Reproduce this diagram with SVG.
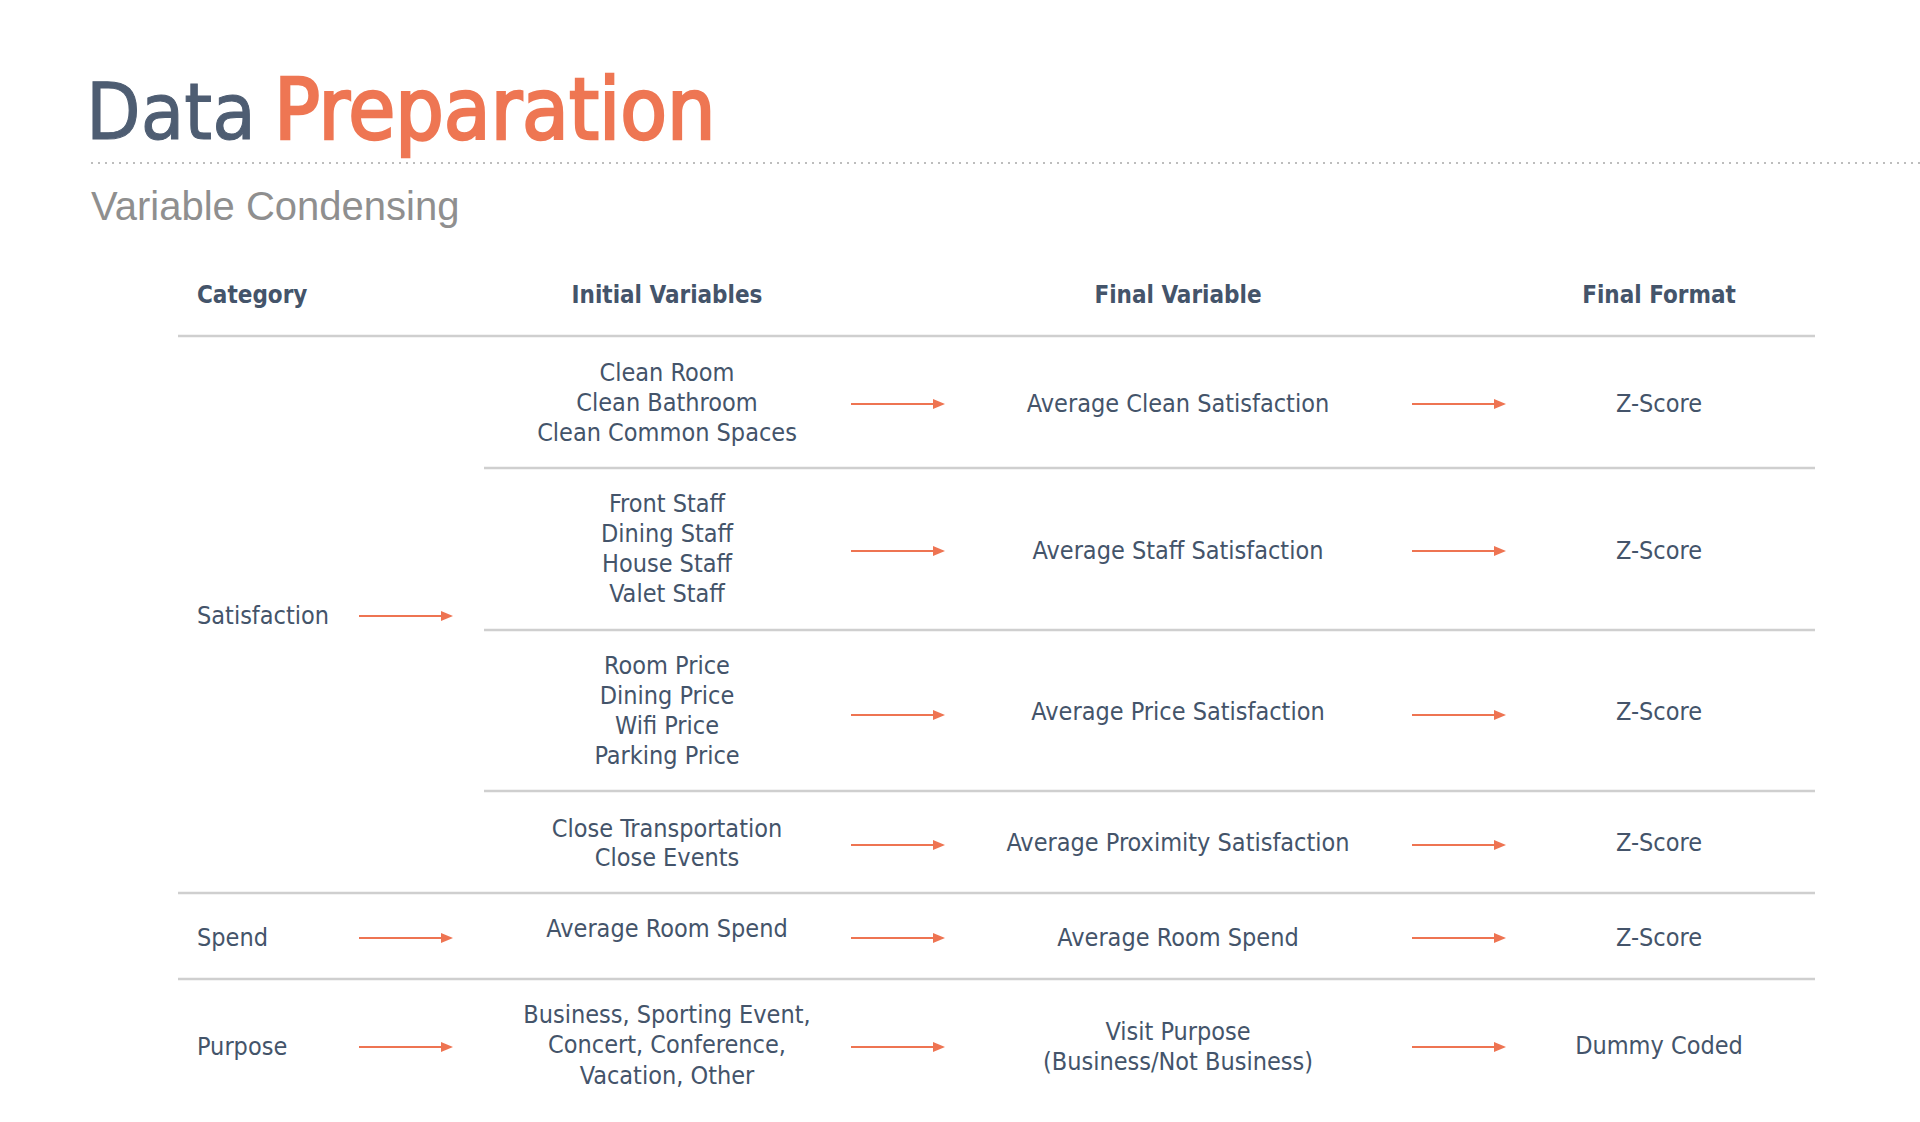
<svg xmlns="http://www.w3.org/2000/svg" width="1920" height="1122" viewBox="0 0 1920 1122">
<defs>
<style>
.t{font-family:"DejaVu Sans Condensed","DejaVu Sans","Liberation Sans",sans-serif;fill:#44546A;font-size:25px;text-anchor:middle}
.l{text-anchor:start}
.h{font-weight:bold;font-size:24px}
.rule{stroke:#CFCFCF;stroke-width:2.5}
.arr{stroke:#EE7452;stroke-width:2;fill:none;marker-end:url(#ah)}
</style>
<marker id="ah" markerWidth="12" markerHeight="10" refX="0" refY="5" orient="auto" markerUnits="userSpaceOnUse">
<path d="M0,0 L12,5 L0,10 Z" fill="#EE7452"/>
</marker>
</defs>
<rect width="1920" height="1122" fill="#FFFFFF"/>
<g id="title">
<text x="86" y="139" font-family="DejaVu Sans Condensed, DejaVu Sans, sans-serif" font-size="79" fill="#4E5D72" stroke="#4E5D72" stroke-width="1">Data</text>
<text x="274" y="139" font-family="DejaVu Sans Condensed, DejaVu Sans, sans-serif" font-size="85" fill="#EE7653" stroke="#EE7653" stroke-width="2.5">Preparation</text>
<line x1="91" y1="163" x2="1920" y2="163" stroke="#BDBDBD" stroke-width="2" stroke-dasharray="2 5"/>
<text x="91" y="220" font-family="Liberation Sans, Arial, sans-serif" font-size="40" fill="#8F8F8F">Variable Condensing</text>
</g>
<g id="headers">
<text class="t h l" x="197" y="303">Category</text>
<text class="t h" x="667" y="303">Initial Variables</text>
<text class="t h" x="1178" y="303">Final Variable</text>
<text class="t h" x="1659" y="303">Final Format</text>
</g>
<g id="rules">
<line class="rule" x1="178" y1="336" x2="1815" y2="336"/>
<line class="rule" x1="484" y1="468" x2="1815" y2="468"/>
<line class="rule" x1="484" y1="630" x2="1815" y2="630"/>
<line class="rule" x1="484" y1="791" x2="1815" y2="791"/>
<line class="rule" x1="178" y1="893" x2="1815" y2="893"/>
<line class="rule" x1="178" y1="979" x2="1815" y2="979"/>
</g>
<g id="cat-satisfaction"><text class="t l" x="197" y="624">Satisfaction</text></g>
<g id="cat-spend"><text class="t l" x="197" y="946">Spend</text></g>
<g id="cat-purpose"><text class="t l" x="197" y="1055">Purpose</text></g>
<g id="init-clean"><text class="t" x="667" y="381">Clean Room</text><text class="t" x="667" y="411">Clean Bathroom</text><text class="t" x="667" y="441">Clean Common Spaces</text></g>
<g id="init-staff"><text class="t" x="667" y="512">Front Staff</text><text class="t" x="667" y="542">Dining Staff</text><text class="t" x="667" y="572">House Staff</text><text class="t" x="667" y="602">Valet Staff</text></g>
<g id="init-price"><text class="t" x="667" y="674">Room Price</text><text class="t" x="667" y="704">Dining Price</text><text class="t" x="667" y="734">Wifi Price</text><text class="t" x="667" y="764">Parking Price</text></g>
<g id="init-proximity"><text class="t" x="667" y="837">Close Transportation</text><text class="t" x="667" y="866">Close Events</text></g>
<g id="init-spend"><text class="t" x="667" y="937">Average Room Spend</text></g>
<g id="init-purpose"><text class="t" x="667" y="1023">Business, Sporting Event,</text><text class="t" x="667" y="1053">Concert, Conference,</text><text class="t" x="667" y="1084">Vacation, Other</text></g>
<g id="final-clean"><text class="t" x="1178" y="412">Average Clean Satisfaction</text></g>
<g id="final-staff"><text class="t" x="1178" y="559">Average Staff Satisfaction</text></g>
<g id="final-price"><text class="t" x="1178" y="720">Average Price Satisfaction</text></g>
<g id="final-proximity"><text class="t" x="1178" y="851">Average Proximity Satisfaction</text></g>
<g id="final-spend"><text class="t" x="1178" y="946">Average Room Spend</text></g>
<g id="final-purpose"><text class="t" x="1178" y="1040">Visit Purpose</text><text class="t" x="1178" y="1070">(Business/Not Business)</text></g>
<g id="fmt-clean"><text class="t" x="1659" y="412">Z-Score</text></g>
<g id="fmt-staff"><text class="t" x="1659" y="559">Z-Score</text></g>
<g id="fmt-price"><text class="t" x="1659" y="720">Z-Score</text></g>
<g id="fmt-proximity"><text class="t" x="1659" y="851">Z-Score</text></g>
<g id="fmt-spend"><text class="t" x="1659" y="946">Z-Score</text></g>
<g id="fmt-purpose"><text class="t" x="1659" y="1054">Dummy Coded</text></g>
<g id="connectors">
<line class="arr" x1="359" y1="616" x2="441" y2="616"/>
<line class="arr" x1="359" y1="938" x2="441" y2="938"/>
<line class="arr" x1="359" y1="1047" x2="441" y2="1047"/>
<line class="arr" x1="851" y1="404" x2="933" y2="404"/>
<line class="arr" x1="851" y1="551" x2="933" y2="551"/>
<line class="arr" x1="851" y1="715" x2="933" y2="715"/>
<line class="arr" x1="851" y1="845" x2="933" y2="845"/>
<line class="arr" x1="851" y1="938" x2="933" y2="938"/>
<line class="arr" x1="851" y1="1047" x2="933" y2="1047"/>
<line class="arr" x1="1412" y1="404" x2="1494" y2="404"/>
<line class="arr" x1="1412" y1="551" x2="1494" y2="551"/>
<line class="arr" x1="1412" y1="715" x2="1494" y2="715"/>
<line class="arr" x1="1412" y1="845" x2="1494" y2="845"/>
<line class="arr" x1="1412" y1="938" x2="1494" y2="938"/>
<line class="arr" x1="1412" y1="1047" x2="1494" y2="1047"/>
</g>
</svg>
